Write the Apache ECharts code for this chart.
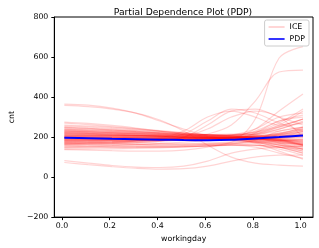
<!DOCTYPE html>
<html><head><meta charset="utf-8">
<script src="https://cdn.jsdelivr.net/npm/echarts@6/dist/echarts.min.js"></script>
<style>html,body{margin:0;padding:0;background:#fff}#c{width:319px;height:248px}</style>
</head><body><div id="c"></div>
<script>
var xGrid = [0.01,0.11,0.21,0.31,0.41,0.51,0.61,0.71,0.81,0.91,1.01];
var xTicks = [0.0,0.2,0.4,0.6,0.8,1.0];
var yTicks = [-200,0,200,400,600,800];
var iceLines = [
[365,360,345,320,280,240,205,185,175,170,165],
[358,352,340,320,285,230,160,100,70,60,55],
[275,268,258,245,230,215,200,190,185,200,230],
[270,262,252,242,232,222,212,205,200,205,215],
[255,250,243,236,228,220,212,208,215,240,280],
[248,243,238,232,225,218,212,210,220,260,330],
[240,236,232,228,222,216,210,205,200,190,180],
[235,232,228,224,220,215,210,206,204,210,230],
[230,228,225,222,218,214,210,212,225,270,340],
[225,222,220,218,215,212,208,205,195,170,140],
[222,220,218,216,213,210,208,210,225,255,290],
[218,216,214,212,210,208,206,204,200,190,175],
[215,213,211,209,207,205,204,210,240,300,320],
[212,210,209,207,205,203,202,200,195,185,170],
[208,207,206,204,202,200,199,205,230,280,300],
[205,204,203,202,200,198,196,190,180,160,140],
[200,200,199,198,197,196,195,200,215,250,270],
[198,197,196,195,194,193,192,190,185,170,150],
[195,194,193,192,191,190,189,195,210,230,250],
[192,191,190,189,188,187,186,183,175,150,120],
[190,189,188,187,186,185,185,195,240,330,415],
[185,186,186,186,185,184,186,188,290,595,652],
[200,199,198,197,196,198,215,260,380,525,535],
[180,180,180,182,185,200,260,330,340,300,260],
[175,176,177,180,190,215,280,340,320,270,230],
[170,172,175,180,195,230,300,330,300,260,290],
[165,166,168,172,180,200,240,300,330,300,200],
[165,164,163,162,163,165,170,175,180,185,190],
[160,158,157,156,156,158,162,168,175,180,185],
[155,154,153,152,152,154,158,165,185,230,250],
[150,150,150,150,150,152,155,160,160,150,130],
[145,146,147,148,150,152,156,160,158,140,110],
[140,140,141,143,146,150,155,160,150,120,95],
[137,135,132,130,130,135,150,175,220,280,310],
[170,168,166,163,160,160,165,170,170,160,150],
[175,174,172,170,168,166,165,165,160,150,140],
[82,70,58,50,48,55,80,120,140,150,155],
[73,62,52,44,40,42,55,80,100,110,110],
[210,208,206,204,202,200,198,196,194,192,190],
[200,198,196,194,193,192,191,190,188,185,180],
[185,185,185,186,187,188,190,195,205,220,240],
[180,181,182,183,184,185,186,188,190,195,200],
[230,225,220,215,210,205,200,195,190,175,160],
[245,240,234,227,220,212,205,200,198,200,205],
[260,255,248,240,230,220,210,205,215,250,290],
[150,153,157,162,168,175,182,188,190,185,170],
[200,202,204,206,208,210,212,215,210,190,160],
[190,192,195,198,200,200,198,190,170,130,90],
[220,218,214,210,205,200,194,188,175,150,120],
[205,203,201,199,197,195,193,192,190,185,175],
[215,212,209,206,203,200,197,195,197,205,215],
[195,195,195,195,195,195,196,198,205,215,225],
[225,220,215,210,205,200,196,194,196,210,240],
[185,186,188,190,192,194,196,197,195,185,165],
[180,182,185,188,192,196,200,203,200,185,160],
[235,228,222,216,210,204,198,194,188,175,155],
[250,244,236,228,220,212,204,198,192,180,165],
[170,172,175,179,184,190,195,198,200,205,210],
[160,163,167,172,178,185,192,198,205,220,245],
[210,209,207,205,203,201,199,195,185,165,140],
[190,190,191,192,193,194,195,198,210,240,275],
[220,216,212,208,204,200,197,196,200,215,235],
[200,199,198,197,196,195,193,190,180,160,130],
[175,177,180,183,187,191,195,196,192,180,160],
[240,234,228,222,215,208,202,198,196,198,200],
[230,226,222,218,213,208,203,200,202,215,250],
[165,168,172,177,182,188,193,197,198,195,185],
[205,206,207,207,206,205,203,200,195,180,160],
[185,184,184,185,186,188,191,195,200,210,220]
];
var pdpValues = [196,194,191,189,187,185,184,186,193,200,208];

var F = 'DejaVu Sans';
var FS = 7.8;
var series = iceLines.map(function(vals){
  return {name:'ICE', type:'line', symbol:'none', smooth:0.35, silent:true,
    data: xGrid.map(function(x,i){return [x, vals[i]];}),
    lineStyle:{color:'#ff0000', width:1.2, opacity:0.17}, itemStyle:{color:'#ffc8c8'}, z:2};
});
series.push({name:'PDP', type:'line', symbol:'none', smooth:0.35,
  data: xGrid.map(function(x,i){return [x, pdpValues[i]];}),
  lineStyle:{color:'#0000ff', width:2}, itemStyle:{color:'#0000ff'}, z:5});

var chart = echarts.init(document.getElementById('c'), null, {renderer:'canvas'});
chart.setOption({
  animation:false,
  title:{text:'Partial Dependence Plot (PDP)', left:178, textAlign:'center', top:3,
    textStyle:{fontFamily:F, fontSize:9.2, fontWeight:'normal', color:'#000'}},
  legend:{data:[{name:'ICE', icon:'rect', itemStyle:{color:'#ffcccc'}},{name:'PDP', icon:'rect', itemStyle:{color:'#0000ff'}}],
    orient:'vertical', right:10, top:20, itemWidth:16, itemHeight:1.6, itemGap:4,
    backgroundColor:'#fff', borderColor:'#cccccc', borderWidth:1, borderRadius:2, padding:[3,4,3,4],
    textStyle:{fontFamily:F, fontSize:FS, color:'#000'}},
  grid:{left:42, right:6, top:17, bottom:29, show:true, borderColor:'#000', borderWidth:1, backgroundColor:'transparent'},
  xAxis:{type:'value', min:-0.032, max:1.052, name:'workingday', nameLocation:'middle', nameGap:16,
    nameTextStyle:{fontFamily:F, fontSize:FS, color:'#000'},
    axisLine:{show:true, onZero:false, lineStyle:{color:'#000', width:1}},
    axisTick:{show:true, inside:false, length:3, customValues:xTicks, lineStyle:{color:'#000'}},
    axisLabel:{customValues:xTicks, margin:5, fontFamily:F, fontSize:FS, color:'#000', formatter:function(v){return v.toFixed(1);}},
    splitLine:{show:false}},
  yAxis:{type:'value', min:-200, max:800, interval:200, name:'cnt', nameLocation:'middle', nameGap:29,
    nameTextStyle:{fontFamily:F, fontSize:FS, color:'#000'},
    axisLine:{show:true, onZero:false, lineStyle:{color:'#000', width:1}},
    axisTick:{show:true, inside:false, length:3, lineStyle:{color:'#000'}},
    axisLabel:{margin:6, fontFamily:F, fontSize:FS, color:'#000', formatter:function(v){return v<0?'\u2212'+Math.abs(v):String(v);}},
    splitLine:{show:false}},
  series:series
});
</script></body></html>
